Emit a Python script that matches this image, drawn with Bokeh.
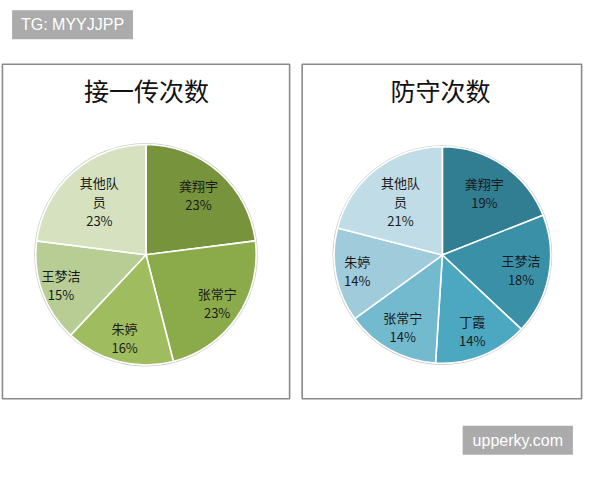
import math
from bokeh.plotting import figure
from bokeh.models import ColumnDataSource, Range1d
from bokeh.core.properties import value
from bokeh.embed import file_html
from bokeh.resources import INLINE

# ---------------- data ----------------
pass_title = "接一传次数"
pass_players = ["龚翔宇", "张常宁", "朱婷", "王梦洁", "其他队员"]
pass_share = [23, 23, 16, 15, 23]
pass_colors = ["#77933C", "#8BAB4A", "#9FBD5E", "#B8CD94", "#D5E1BF"]

def_title = "防守次数"
def_players = ["龚翔宇", "王梦洁", "丁霞", "张常宁", "朱婷", "其他队员"]
def_share = [19, 18, 14, 14, 14, 21]
def_colors = ["#317E93", "#3A91A7", "#4CA8C1", "#73BACF", "#9FCBDA", "#C0DCE6"]

watermark_left = "TG: MYYJJPP"
watermark_right = "upperky.com"

# ---------------- layout (reference pixel space, y measured upward) ----------------
H = 480
CJK = value("Noto Sans CJK SC")
LATIN = value("Liberation Sans")

p = figure(width=584, height=464, x_range=Range1d(-2, 602), y_range=Range1d(0, H),
           output_backend="svg", toolbar_location=None, x_axis_type=None, y_axis_type=None,
           min_border=0)
p.grid.visible = False
p.outline_line_color = None
p.background_fill_color = "white"
p.border_fill_color = "white"

# panels
p.quad(left=[0, 310], right=[297, 599], bottom=[H - 412, H - 412], top=[H - 66, H - 66],
       fill_color=None, line_color="#8a8a8a", line_width=1.6)

# titles
p.text(x=[149, 453], y=[H - 93, H - 93], text=[pass_title, def_title], text_align="center",
       text_baseline="middle", text_font=CJK, text_font_size="25px", text_color="#111111")

# watermarks
p.quad(left=[10, 476], right=[135, 590], bottom=[H - 40, H - 470], top=[H - 10, H - 440],
       fill_color="#ABABAB", line_color=None)
p.text(x=[72.5, 533], y=[H - 25, H - 455], text=[watermark_left, watermark_right],
       text_align="center", text_baseline="middle", text_font=LATIN, text_font_size="16px",
       text_color="white")


def wrap(name):
    return name[:3] + "\n" + name[3:] if len(name) > 3 else name


def pie(cx, cy, r, names, shares, colors, label_fracs):
    total = float(sum(shares))
    starts, ends, lx, ly, labels = [], [], [], [], []
    cum = 0.0
    for name, s, f in zip(names, shares, label_fracs):
        a0 = math.pi / 2 - 2 * math.pi * cum / total
        cum += s
        a1 = math.pi / 2 - 2 * math.pi * cum / total
        mid = (a0 + a1) / 2
        starts.append(a0)
        ends.append(a1)
        lx.append(cx + f * r * math.cos(mid))
        ly.append(cy + f * r * math.sin(mid))
        labels.append(f"{wrap(name)}\n{round(100 * s / total)}%")
    src = ColumnDataSource(dict(start=starts, end=ends, color=colors, lx=lx, ly=ly, label=labels))
    p.circle(x=[cx], y=[cy], radius=r + 1.0, fill_color=None, line_color="#cfcfcf", line_width=1.2)
    p.wedge(x=cx, y=cy, radius=r, start_angle="start", end_angle="end", direction="clock",
            fill_color="color", line_color="white", line_width=1.6, source=src)
    p.text(x="lx", y="ly", text="label", text_align="center", text_baseline="middle",
           text_font=CJK, text_font_size="13px", text_color="#1a1a1a", text_line_height=1.0,
           source=src)


pie(148.5, H - 263, 114, pass_players, pass_share, pass_colors, [0.72, 0.78, 0.78, 0.82, 0.64])
pie(455, H - 263.3, 112, def_players, def_share, def_colors, [0.69, 0.74, 0.75, 0.76, 0.80, 0.63])

open("out.html", "w").write(file_html(p, INLINE))
